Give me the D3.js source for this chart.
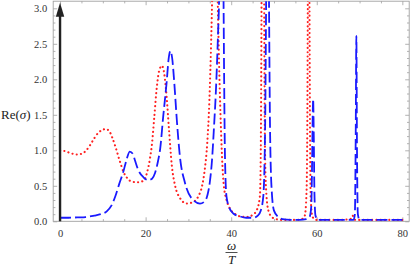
<!DOCTYPE html>
<html>
<head>
<meta charset="utf-8">
<script src="https://cdn.jsdelivr.net/npm/d3@7"></script>
<style>
html,body{margin:0;padding:0;background:#fff;}
svg{display:block;}
svg text{font-family:"Liberation Serif","Times New Roman",Times,serif;}
</style>
</head>
<body>
<svg id="chart" width="411" height="266"></svg>
<script>
// ---- data ----
const redOmega = [0,1,2,3,4,5,6,7,8,9,10,10.7,11.5,12.2,13,13.8,14.8,15.8,16.7,18,19.5,20.3,21,21.5,22,22.6,23.2,23.8,24.4,24.9,25.5,26.1,26.9,28,29.6,31,32.3,33.2,33.8,34.4,34.9,35.3,35.6,35.9,36.2,36.5,36.8,37.1,37.5,38.2,39,39.7,41,42,43.5,45,46,46.7,46.9,47.05,47.2,47.4,47.6,47.75,47.9,48.2,48.7,49.5,50.5,52,55,56.5,57.2,57.6,57.8,57.95,58.1,58.25,58.4,58.6,59,60,65,67.8,68.2,68.4,68.6,69,75,80];
const redRe    = [1.00,0.99,0.97,0.95,0.94,0.95,0.99,1.07,1.17,1.25,1.29,1.30,1.27,1.18,1.04,0.88,0.70,0.60,0.56,0.55,0.57,0.68,0.88,1.10,1.45,1.88,2.13,2.19,2.06,1.76,1.26,0.80,0.50,0.33,0.25,0.27,0.35,0.50,0.72,1.10,1.70,2.50,3.30,4.50,5.00,4.50,3.30,2.40,1.50,0.55,0.28,0.18,0.10,0.07,0.06,0.09,0.16,0.35,0.90,2.50,5.00,7.00,5.00,2.50,1.00,0.40,0.15,0.06,0.03,0.02,0.02,0.03,0.08,0.40,1.50,4.00,8.00,4.00,1.50,0.30,0.06,0.02,0.02,0.03,0.06,0.08,0.04,0.02,0.02,0.02];

const blueOmega = [0,2,4,6,8,9.5,10.9,12,12.9,13.8,14.8,15.6,16.3,17,17.5,18.3,19.5,20.6,21.5,22.2,22.9,23.4,24.1,24.9,25.4,25.8,26.2,26.7,27.3,28,29.2,30.8,32.7,33.8,34.5,35,35.5,36,36.4,36.9,37.2,37.5,37.7,37.95,38.2,38.35,38.55,38.9,39.5,40.5,42,43.5,45.2,46.2,46.9,47.5,47.9,48.15,48.35,48.5,48.65,48.85,49.1,49.5,50,51,52,54,56,57.5,58.3,58.7,58.9,59.05,59.15,59.3,59.45,59.7,60.3,65,68.6,68.9,69.1,69.25,69.4,69.6,70,80];
const blueRe    = [0.05,0.05,0.055,0.06,0.08,0.10,0.14,0.22,0.35,0.52,0.70,0.88,0.98,0.95,0.86,0.72,0.62,0.58,0.60,0.68,0.85,1.02,1.47,1.95,2.30,2.40,2.30,1.95,1.42,0.92,0.54,0.32,0.25,0.28,0.38,0.55,0.85,1.35,1.80,2.60,3.20,4.50,5.00,4.50,3.20,2.00,0.90,0.35,0.20,0.11,0.07,0.05,0.05,0.08,0.15,0.35,1.20,3.00,5.00,5.50,5.00,3.00,1.20,0.40,0.15,0.06,0.03,0.02,0.02,0.03,0.06,0.20,0.80,1.50,1.72,1.20,0.40,0.08,0.02,0.02,0.02,0.10,1.20,2.61,1.00,0.10,0.02,0.02];

const xMajorTicks = [0,20,40,60,80];
const yMajorTicks = [0.0,0.5,1.0,1.5,2.0,2.5,3.0];

// ---- layout ----
const svg = d3.select("#chart");
const L = 53.2, R = 409.2, T = 1.2, B = 221.3;
const x = d3.scaleLinear().domain([-1.6, 81.6]).range([L, R]);
const y = d3.scaleLinear().domain([0, 3.1]).range([B, T]);
const frameColor = "#a0a0a0";
const serif = '"Liberation Serif","Times New Roman",Times,serif';

svg.append("defs").append("clipPath").attr("id","clip")
  .append("rect").attr("x",L).attr("y",T).attr("width",R-L).attr("height",B-T);

// minor tick values
const xMinor = d3.range(0, 81, 5).filter(v => v % 20 !== 0);
const yMinor = d3.range(0, 31, 1).map(v => v/10).filter(v => Math.round(v*10) % 5 !== 0);

function styleAxis(g){
  g.attr("font-family", null);
  g.select(".domain").remove();
  g.selectAll("line").attr("stroke", frameColor).attr("stroke-width",0.8);
  g.selectAll("text").style("font-family", serif).attr("font-size","10.5px").attr("fill","#333");
}

// bottom axis (ticks inward)
const gB = svg.append("g").attr("transform",`translate(0,${B})`)
  .call(d3.axisBottom(x).tickValues(xMajorTicks).tickSize(-4).tickPadding(8).tickFormat(d3.format("d")));
styleAxis(gB);
const gBm = svg.append("g").attr("transform",`translate(0,${B})`)
  .call(d3.axisBottom(x).tickValues(xMinor).tickSize(-2.2).tickFormat(""));
styleAxis(gBm);
// top axis
const gT = svg.append("g").attr("transform",`translate(0,${T})`)
  .call(d3.axisTop(x).tickValues(xMajorTicks).tickSize(-4).tickFormat(""));
styleAxis(gT);
const gTm = svg.append("g").attr("transform",`translate(0,${T})`)
  .call(d3.axisTop(x).tickValues(xMinor).tickSize(-2.2).tickFormat(""));
styleAxis(gTm);
// left axis
const gL = svg.append("g").attr("transform",`translate(${L},0)`)
  .call(d3.axisLeft(y).tickValues(yMajorTicks).tickSize(-4).tickPadding(6).tickFormat(d3.format(".1f")));
styleAxis(gL);
const gLm = svg.append("g").attr("transform",`translate(${L},0)`)
  .call(d3.axisLeft(y).tickValues(yMinor).tickSize(-2.2).tickFormat(""));
styleAxis(gLm);
// right axis
const gR = svg.append("g").attr("transform",`translate(${R},0)`)
  .call(d3.axisRight(y).tickValues(yMajorTicks).tickSize(-4).tickFormat(""));
styleAxis(gR);
const gRm = svg.append("g").attr("transform",`translate(${R},0)`)
  .call(d3.axisRight(y).tickValues(yMinor).tickSize(-2.2).tickFormat(""));
styleAxis(gRm);

// frame
svg.append("rect").attr("x",L).attr("y",T).attr("width",R-L).attr("height",B-T)
  .attr("fill","none").attr("stroke",frameColor).attr("stroke-width",0.9);

// curves
const line = d3.line().x(d => x(d[0])).y(d => y(d[1])).curve(d3.curveMonotoneX);
const plot = svg.append("g").attr("clip-path","url(#clip)");
plot.append("path").datum(redOmega.map((w,i)=>[w, redRe[i]]))
  .attr("d", line).attr("fill","none").attr("stroke","#ff2020")
  .attr("stroke-width",2.1).attr("stroke-linecap","round").attr("stroke-dasharray","0.1 4.2");
plot.append("path").datum(blueOmega.map((w,i)=>[w, blueRe[i]]))
  .attr("d", line).attr("fill","none").attr("stroke","#1a1aff")
  .attr("stroke-width",1.8).attr("stroke-dasharray","11 4");

// vertical arrow at x = 0
const ax = x(0);
svg.append("line").attr("x1",ax).attr("x2",ax).attr("y1",B).attr("y2",y(2.9))
  .attr("stroke","#222").attr("stroke-width",2.4);
svg.append("path")
  .attr("d",`M${ax},${T+1.5} L${ax-4.2},${T+15.5} L${ax+4.2},${T+15.5} Z`)
  .attr("fill","#222");

// y label
const yl = svg.append("text").attr("x",1).attr("y",y(1.5)+4)
  .style("font-family",serif).attr("font-size","13px").attr("fill","#222");
yl.append("tspan").text("Re(");
yl.append("tspan").attr("font-style","italic").text("σ");
yl.append("tspan").text(")");

// x label: ω / T fraction
const cx = 231.5;
svg.append("text").attr("x",cx).attr("y",249.5).attr("text-anchor","middle")
  .style("font-family",serif).attr("font-style","italic").attr("font-size","13px").attr("fill","#222").text("ω");
svg.append("line").attr("x1",cx-6).attr("x2",cx+6).attr("y1",252.5).attr("y2",252.5)
  .attr("stroke","#222").attr("stroke-width",0.8);
svg.append("text").attr("x",cx).attr("y",263.5).attr("text-anchor","middle")
  .style("font-family",serif).attr("font-style","italic").attr("font-size","13px").attr("fill","#222").text("T");
</script>
</body>
</html>
